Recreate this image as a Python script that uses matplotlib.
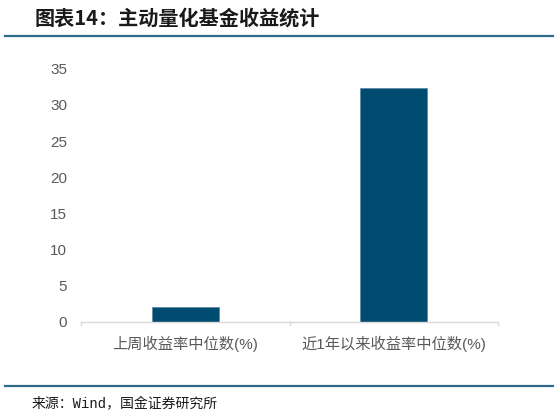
import numpy as np
import matplotlib
matplotlib.use("Agg")
import matplotlib.pyplot as plt
from matplotlib.lines import Line2D

plt.rcParams['font.family'] = ['Liberation Sans', 'Noto Sans CJK SC', 'DejaVu Sans']

categories = ["上周收益率中位数(%)", "近1年以来收益率中位数(%)"]
values = [2.1, 32.4]
yticks = [0, 5, 10, 15, 20, 25, 30, 35]

bar_color = "#004C70"
rule_color = "#2E6A8C"
text_gray = "#595959"

fig = plt.figure(figsize=(5.59, 4.17), dpi=100)
ax = fig.add_axes([0.145, 0.228, 0.746, 0.607])

x = np.arange(len(categories))
ax.bar(x, values, width=0.32, color=bar_color, edgecolor="#5A86A0", linewidth=0.5)

ax.set_xlim(-0.5, 1.5)
ax.set_ylim(0, 35)
ax.set_yticks(yticks)
ax.set_yticklabels([str(v) for v in yticks], color=text_gray, fontsize=11)
ax.set_xticks(x)
ax.set_xticklabels(categories, color=text_gray, fontsize=11)
ax.tick_params(axis="y", length=0, pad=10)
ax.tick_params(axis="x", length=0, pad=10)

for side in ["top", "right", "left"]:
    ax.spines[side].set_visible(False)
ax.spines["bottom"].set_color("#D9D9D9")
ax.spines["bottom"].set_linewidth(1)

# small ticks at category boundaries
for xb in [-0.5, 0.5, 1.5]:
    ax.plot([xb, xb], [0, -0.4], color="#D9D9D9", lw=1, clip_on=False)

# title and rules
fig.text(35 / 559, 1 - 18 / 417, "图表14：主动量化基金收益统计", fontsize=14.5,
         fontweight="bold", style="italic", color="#1A1A1A", va="center", ha="left",
         family=['Noto Sans CJK SC', 'DejaVu Sans'])
fig.add_artist(Line2D([5 / 559, 553 / 559], [1 - 36 / 417, 1 - 36 / 417],
                      color=rule_color, lw=1.6))
fig.add_artist(Line2D([5 / 559, 553 / 559], [1 - 386 / 417, 1 - 386 / 417],
                      color=rule_color, lw=1.6))
fig.text(32 / 559, 1 - 404 / 417, "来源：Wind，国金证券研究所", fontsize=10,
         color="#1A1A1A", va="center", ha="left",
         family=['Liberation Mono', 'Noto Sans CJK SC'])

fig.savefig("out.png", dpi=100)
